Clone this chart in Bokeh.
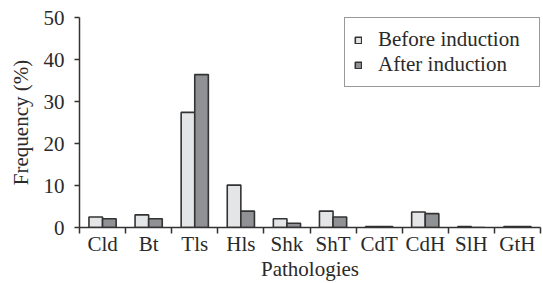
from bokeh.plotting import figure
from bokeh.models import ColumnDataSource, FixedTicker, Range1d, Legend, LegendItem
from bokeh.embed import file_html
from bokeh.resources import INLINE
from bokeh.transform import dodge

categories = ["Cld", "Bt", "Tls", "Hls", "Shk", "ShT", "CdT", "CdH", "SlH", "GtH"]
before = [2.5, 3.0, 27.4, 10.1, 2.1, 3.9, 0.2, 3.7, 0.2, 0.2]
after = [2.1, 2.1, 36.4, 3.9, 1.0, 2.5, 0.2, 3.3, 0.0, 0.2]
y_ticks = [0, 10, 20, 30, 40, 50]
series_names = ["Before induction", "After induction"]

xs = [i + 0.5 for i in range(len(categories))]
src = ColumnDataSource(dict(x=xs, before=before, after=after))

FONT = "'Liberation Serif', 'Times New Roman', serif"
FS = "21px"
TC = "#2a2a2a"
C_BEFORE = "#e4e5e7"
C_AFTER = "#8f9195"
lc = "#333333"

p = figure(width=543, height=283, output_backend="svg", toolbar_location=None,
           x_range=Range1d(0, len(categories)), y_range=Range1d(0, 50),
           min_border_left=79, min_border_right=3, min_border_top=17, min_border_bottom=56)
p.outline_line_color = None
p.grid.grid_line_color = None
p.background_fill_color = "white"

bw = 0.295
r1 = p.vbar(x=dodge("x", -bw / 2), top="before", width=bw, source=src,
            fill_color=C_BEFORE, line_color=lc, line_width=1.6)
r2 = p.vbar(x=dodge("x", bw / 2), top="after", width=bw, source=src,
            fill_color=C_AFTER, line_color=lc, line_width=1.6)

# x axis
xa = p.xaxis[0]
xa.ticker = FixedTicker(ticks=xs, minor_ticks=list(range(len(categories) + 1)))
xa.major_label_overrides = {x: c for x, c in zip(xs, categories)}
xa.major_tick_line_color = None
xa.major_tick_out = 0
xa.major_tick_in = 0
xa.minor_tick_line_color = "#333333"
xa.minor_tick_line_width = 1.5
xa.minor_tick_out = 6
xa.minor_tick_in = 0
xa.axis_line_color = "#333333"
xa.axis_line_width = 1.5
xa.major_label_text_font = FONT
xa.major_label_text_font_size = FS
xa.major_label_text_color = TC
xa.major_label_standoff = -2
xa.axis_label = "Pathologies"
xa.axis_label_text_font = FONT
xa.axis_label_text_font_size = FS
xa.axis_label_text_font_style = "normal"
xa.axis_label_text_color = TC
xa.axis_label_standoff = -2

ya = p.yaxis[0]
ya.ticker = FixedTicker(ticks=y_ticks)
ya.minor_tick_line_color = None
ya.major_tick_line_color = "#333333"
ya.major_tick_line_width = 1.5
ya.major_tick_out = 5
ya.major_tick_in = 0
ya.axis_line_color = "#333333"
ya.axis_line_width = 1.5
ya.major_label_text_font = FONT
ya.major_label_text_font_size = FS
ya.major_label_text_color = TC
ya.major_label_standoff = 10
ya.axis_label = "Frequency (%)"
ya.axis_label_text_font = FONT
ya.axis_label_text_font_size = FS
ya.axis_label_text_font_style = "normal"
ya.axis_label_text_color = TC
ya.axis_label_standoff = 8

legend = Legend(items=[LegendItem(label=series_names[0], renderers=[r1]),
                       LegendItem(label=series_names[1], renderers=[r2])],
                location="top_right")
legend.label_text_font = FONT
legend.label_text_font_size = FS
legend.label_text_color = TC
legend.glyph_width = 8
legend.glyph_height = 8
legend.border_line_color = "#333333"
legend.border_line_width = 1
legend.padding = 9
legend.spacing = 0
legend.margin = 0
legend.label_standoff = 16
legend.label_width = 152
p.add_layout(legend)

open("out.html", "w").write(file_html(p, INLINE))
